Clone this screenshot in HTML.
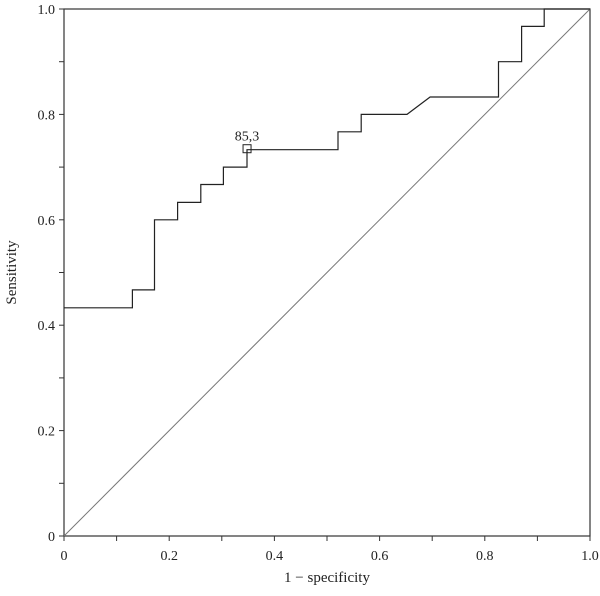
<!DOCTYPE html>
<html><head><meta charset="utf-8"><style>
body{margin:0;background:#fff;}
svg text{font-family:"Liberation Serif",serif;fill:#222;}
</style></head><body>
<svg width="600" height="591" viewBox="0 0 600 591" id="chart">
</svg>
<script>
const fprValues=[0,0.13,0.13,0.172,0.172,0.216,0.216,0.26,0.26,0.303,0.303,0.348,0.348,0.521,0.521,0.565,0.565,0.652,0.696,0.826,0.826,0.87,0.87,0.913,0.913,1.0];
const tprValues=[0.433,0.433,0.467,0.467,0.6,0.6,0.633,0.633,0.667,0.667,0.7,0.7,0.733,0.733,0.767,0.767,0.8,0.8,0.833,0.833,0.9,0.9,0.967,0.967,1.0,1.0];
const cutoffPoint=[0.348,0.733];
const cutoffLabel="85,3";
const xTickLabels=["0","0.2","0.4","0.6","0.8","1.0"];
const yTickLabels=["0","0.2","0.4","0.6","0.8","1.0"];
const X0=64,X1=590,Y0=536,Y1=9;
const sx=v=>X0+v*(X1-X0), sy=v=>Y0-v*(Y0-Y1);
const svg=document.getElementById('chart');
const NS='http://www.w3.org/2000/svg';
function mk(tag,attrs,name){const e=document.createElementNS(NS,tag);for(const k in attrs)e.setAttribute(k,attrs[k]);


svg.appendChild(e);return e;}
mk('rect',{x:X0,y:Y1,width:X1-X0,height:Y0-Y1,fill:'none',stroke:'#333','stroke-width':1.2},'plot-frame');
mk('line',{x1:sx(0),y1:sy(0),x2:sx(1),y2:sy(1),stroke:'#777','stroke-width':1},'reference-diagonal');
for(let i=0;i<=10;i++){const v=i/10;
mk('line',{x1:sx(v),y1:Y0,x2:sx(v),y2:Y0+5,stroke:'#333','stroke-width':1},'x-tick');
mk('line',{x1:X0-5,y1:sy(v),x2:X0,y2:sy(v),stroke:'#333','stroke-width':1},'y-tick');}
xTickLabels.forEach((t,i)=>{const e=mk('text',{x:sx(i*0.2),y:Y0+24,'text-anchor':'middle','font-size':14},'x-tick-label');e.textContent=t;});
yTickLabels.forEach((t,i)=>{const e=mk('text',{x:X0-9,y:sy(i*0.2)+5,'text-anchor':'end','font-size':14},'y-tick-label');e.textContent=t;});
let d=fprValues.map((v,i)=>(i?'L':'M')+sx(v).toFixed(1)+','+sy(tprValues[i]).toFixed(1)).join(' ');
mk('path',{d:d,fill:'none',stroke:'#222','stroke-width':1.2},'roc-curve');
mk('rect',{x:sx(cutoffPoint[0])-4,y:sy(cutoffPoint[1])-5,width:8,height:8,fill:'none',stroke:'#222','stroke-width':1},'cutoff-marker');
const lb=mk('text',{x:sx(cutoffPoint[0])+0,y:sy(cutoffPoint[1])-9,'text-anchor':'middle','font-size':14},'cutoff-label');lb.textContent=cutoffLabel;
const xt=mk('text',{x:(X0+X1)/2,y:582,'text-anchor':'middle','font-size':15},'x-axis-title');xt.textContent='1 − specificity';
const yt=mk('text',{x:16,y:(Y0+Y1)/2,'text-anchor':'middle','font-size':15,transform:`rotate(-90 16 ${(Y0+Y1)/2})`},'y-axis-title');yt.textContent='Sensitivity';
</script>
</body></html>
